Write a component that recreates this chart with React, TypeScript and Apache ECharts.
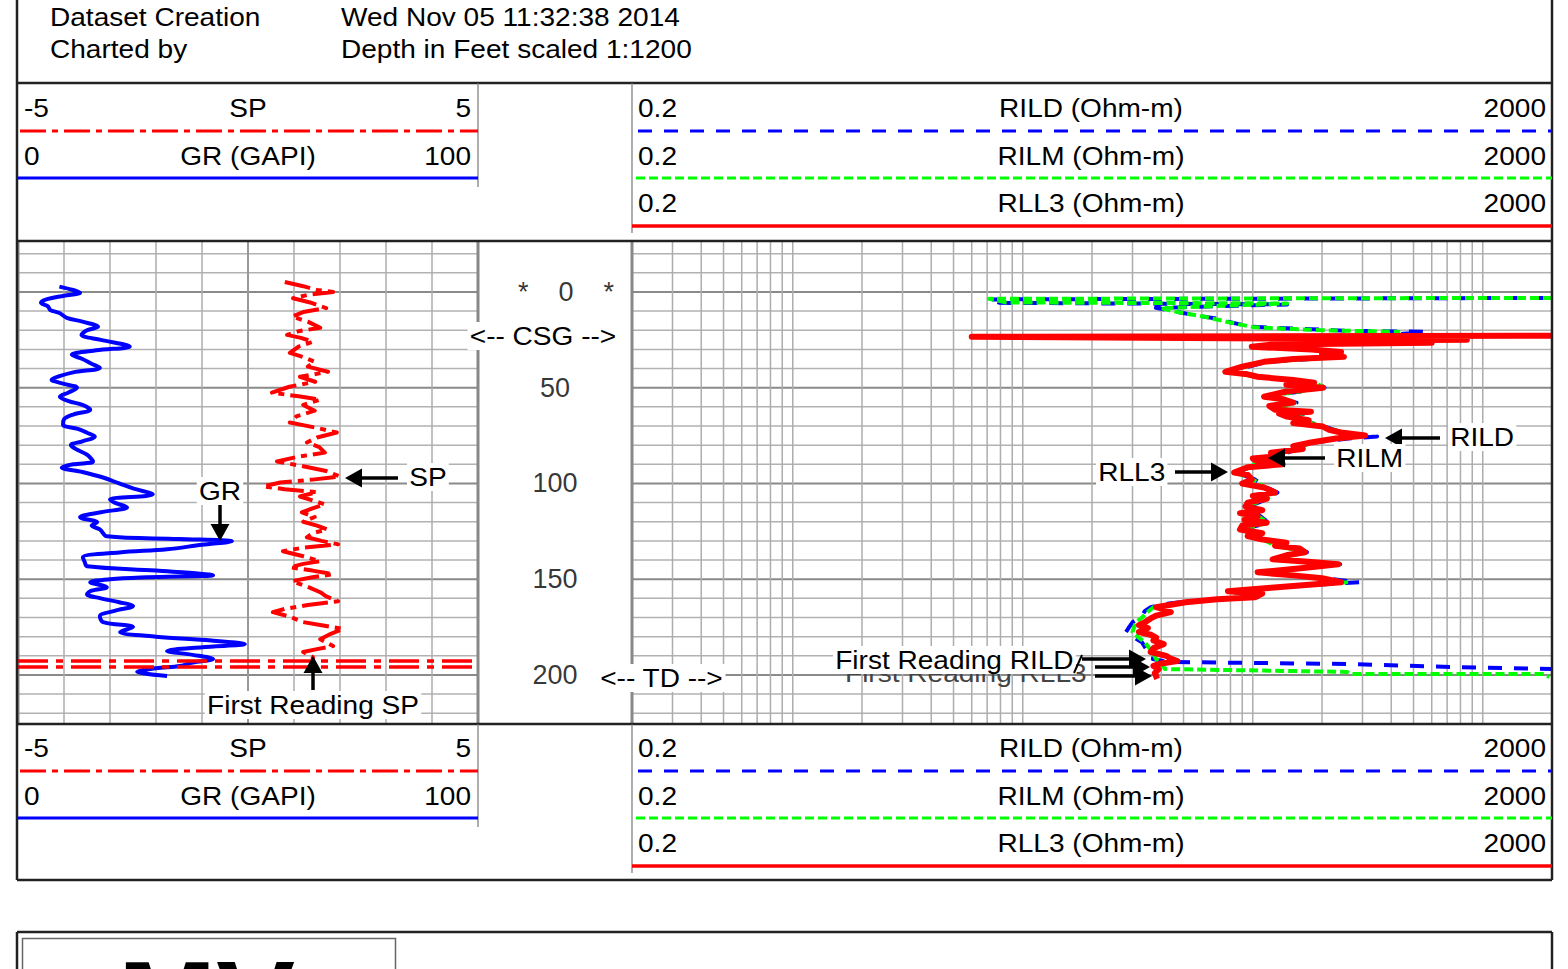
import React, { useEffect, useRef } from 'react';
import * as echarts from 'echarts';

// ---------------- data ----------------
const DEPTH_MIN = -26.6;
const DEPTH_MAX = 225.6;
const DEPTH_GRID = [-20, -10, 0, 10, 20, 30, 40, 50, 60, 70, 80, 90, 100, 110, 120, 130, 140, 150, 160, 170, 180, 190, 200, 210, 220];
const DEPTH_LABELS = [0, 50, 100, 150, 200];
const DEPTH_LABEL_TEXT = ['*    0    *', '50', '100', '150', '200'];
const GR_GRID = [0, 10, 20, 30, 40, 50, 60, 70, 80, 90, 100];
const RES_GRID = [0.2, 0.3, 0.4, 0.5, 0.6, 0.7, 0.8, 0.9, 1, 2, 3, 4, 5, 6, 7, 8, 9, 10, 20, 30, 40, 50, 60, 70, 80, 90, 100, 200, 300, 400, 500, 600, 700, 800, 900, 1000, 2000];

// [depth ft, GR GAPI]
const GR_DATA = [
  [-2.8, 9], [-1, 12], [0.4, 13.5], [2, 10], [4, 6], [5.7, 5], [7.5, 6.5], [9.4, 7], [11, 9], [13.5, 10.6],
  [15.5, 14], [18.2, 17.4], [20, 15], [22.4, 13.8], [25, 18], [28.5, 24.3], [30.5, 17], [32.8, 11.7], [35, 14],
  [37.5, 16], [39.6, 17.8], [42, 12], [44, 9], [45.8, 7.3], [48, 10], [50, 12.8], [52.5, 11], [54.7, 9.1],
  [57, 11], [59, 14], [61.5, 15.7], [64, 12], [66.5, 10], [69.3, 9.8], [71.5, 13], [73.5, 15], [75.5, 16.7],
  [78, 14], [80, 11.5], [82.3, 12.8], [85, 15], [88.5, 16.3], [90, 12], [91.7, 9.5], [94, 14], [96.9, 18.5],
  [100, 22], [102.6, 25], [105.7, 29.3], [108.3, 20], [110, 21], [112.5, 23.7], [115, 18], [117.7, 13.5],
  [120.3, 17.2], [122, 16], [124, 17.8], [127.6, 19.3], [129, 35], [130.2, 46.5], [132, 40], [134.4, 32.4],
  [136, 22], [138.5, 14.1], [141, 14.5], [143.2, 15], [145.5, 30], [147.9, 42.4], [149, 28], [150, 20],
  [151.6, 15.7], [154.2, 19.3], [156, 16], [157.8, 15], [160, 18], [162, 22], [164, 25], [166.5, 21],
  [169.3, 17.8], [172.4, 18.5], [175, 25], [177.6, 22.2], [180, 30], [182, 42], [183.9, 49.3], [185.5, 40],
  [187.5, 32.4], [189.5, 38], [191.7, 42.4], [193.5, 38], [195.3, 35.2], [196.5, 30], [198.4, 25.9], [200.5, 32.4],
];

// [depth ft, SP]
const SP_DATA = [
  [-5.2, 0.8], [-3, 1.2], [-1, 1.5], [0, 1.85], [1.5, 1.3], [3.3, 0.98], [5.5, 1.35], [8.4, 1.7], [10.5, 1.2],
  [12.9, 0.96], [15.5, 1.3], [18.7, 1.57], [20.5, 1.1], [22.4, 0.85], [24, 1.15], [26, 1.41], [28.5, 1.1],
  [31.8, 0.91], [34, 1.2], [36.5, 1.45], [39, 1.3], [41.7, 1.74], [44.3, 1.13], [46.9, 1.46], [49.5, 0.9],
  [52.6, 0.52], [54.5, 1.1], [56.2, 1.57], [59, 1.2], [62, 1.45], [65, 1.05], [68.2, 0.91], [71, 1.5],
  [73.4, 1.93], [76, 1.5], [78.6, 1.28], [81, 1.55], [83.9, 1.67], [86, 1.1], [88.5, 0.63], [91, 1.2],
  [93.5, 1.7], [96.4, 2.0], [98, 1.4], [99.5, 0.7], [101.6, 0.33], [103, 0.8], [104.5, 1.5], [106.8, 1.13],
  [108.8, 1.4], [110.9, 1.67], [113, 1.4], [115.1, 1.17], [117.5, 1.45], [120, 1.2], [122, 1.5], [124, 1.72],
  [126, 1.4], [128.1, 1.28], [130, 1.6], [131.8, 1.96], [133.5, 1.2], [135.4, 0.76], [138, 1.2], [140.6, 1.57],
  [142, 1.2], [143.8, 0.91], [145.5, 1.4], [147.4, 1.85], [149, 1.4], [151, 0.96], [154, 1.3], [156.8, 1.57],
  [159, 1.7], [161.5, 1.96], [163.5, 1.3], [165.5, 0.8], [167.2, 0.54], [169.5, 0.9], [172.4, 1.2], [174, 1.6],
  [176, 2.07], [178.5, 1.8], [181.3, 1.57], [183, 1.7], [184.9, 1.85], [186.5, 1.5], [188, 1.2], [190.6, 1.41],
  [192.4, 1.41],
];
const SP_FIRST_READING = [192.7, 195.8];
const SP_RANGE = [-5, 5];

// [depth ft, ohm-m]
const RLL3_DATA = [
  [22.9, 2000], [23.4, 6.0], [25.0, 853], [25.5, 160], [26.5, 600], [27.5, 120], [28.6, 99], [30.0, 180],
  [31.3, 242], [32.5, 200], [33.9, 249], [35.0, 150], [36.5, 112], [39.0, 90], [41.7, 76], [43.0, 95],
  [44.3, 105], [46.0, 150], [47.4, 185], [48.5, 140], [50.0, 202], [52.0, 140], [54.7, 112], [56.0, 135],
  [57.8, 150], [59.5, 118], [61.5, 125], [62.5, 179], [63.5, 130], [65.1, 141], [67.0, 175], [68.5, 150],
  [70.3, 202], [72.0, 215], [73.4, 242], [75.0, 308], [76.5, 230], [78.6, 179], [80.5, 150], [82.0, 165],
  [84.0, 120], [85.9, 125], [87.0, 100], [88.5, 105], [90.0, 135], [91.5, 95], [94.3, 83], [95.5, 95],
  [97.9, 99], [100.0, 90], [102.1, 112], [104.7, 125], [106.5, 100], [108.0, 115], [110.0, 95], [112.0, 93],
  [114.0, 110], [115.5, 88], [117.2, 105], [119.0, 92], [120.5, 115], [122.0, 90], [124.0, 88], [126.0, 110],
  [127.5, 95], [129.2, 109], [131.0, 140], [132.5, 125], [134.0, 160], [135.9, 169], [137.5, 140], [139.6, 122],
  [141.0, 180], [142.2, 235], [144.0, 170], [146.4, 105], [148.0, 150], [149.5, 200], [151.6, 242], [153.0, 170],
  [154.5, 120], [156.3, 78], [157.5, 110], [159.4, 102], [160.5, 70], [162.0, 51], [164.6, 38], [166.0, 42],
  [167.2, 44], [169.0, 38], [170.5, 36], [172.4, 34], [174.0, 32], [175.5, 35], [177.6, 32], [179.0, 36],
  [180.5, 38], [182.0, 37], [183.9, 41], [186.0, 37], [188.0, 36], [190.0, 42], [191.5, 44], [192.7, 47],
  [194.0, 40], [195.3, 37], [197.0, 39], [199.0, 37.5], [202.0, 38.4],
];
const RILD_DATA = [
  [3.1, 2000], [3.9, 7.13], [5.7, 7.96], [6.5, 141], [8.3, 37.9], [10.0, 45], [12.0, 55], [14.0, 70],
  [15.6, 78], [18.2, 99], [19.5, 180], [20.3, 257], [20.8, 561], [22.5, 400], [25.0, 250], [27.0, 170],
  [29.0, 150], [31.3, 240], [33.9, 250], [36.5, 115], [41.7, 78], [44.3, 108], [47.4, 190], [50.0, 205],
  [54.7, 115], [57.8, 155], [61.5, 128], [62.5, 182], [65.1, 145], [70.3, 205], [73.4, 245], [75.5, 347],
  [76.5, 260], [78.6, 185], [85.9, 128], [88.5, 108], [91.5, 98], [94.3, 85], [97.9, 102], [102.1, 115],
  [104.7, 128], [108.0, 116], [112.0, 96], [117.2, 108], [120.5, 117], [124.0, 90], [129.2, 112], [132.5, 128],
  [135.9, 172], [139.6, 125], [142.2, 240], [146.4, 108], [149.5, 205], [151.6, 290], [153.0, 175], [156.3, 80],
  [159.4, 105], [161.0, 60], [162.5, 44], [164.6, 36], [166.5, 34], [169.0, 33], [170.8, 31.7], [172.5, 30],
  [175.0, 29], [177.6, 28.1], [179.5, 30], [181.0, 31], [183.0, 33], [185.5, 34], [188.0, 35], [190.0, 37],
  [191.7, 36.8], [193.2, 42.8], [194.3, 265], [195.8, 721], [196.9, 2000],
];
const RILM_DATA = [
  [3.1, 2000], [3.6, 7.13], [5.5, 8.5], [6.0, 141], [8.5, 40], [10.5, 47], [13.0, 62], [16.0, 80],
  [18.5, 102], [20.0, 200], [20.8, 430], [22.5, 380], [25.0, 240], [27.0, 165], [29.0, 148], [31.3, 238],
  [33.9, 247], [36.5, 113], [41.7, 77], [44.3, 106], [47.4, 188], [50.0, 204], [54.7, 113], [57.8, 152],
  [61.5, 126], [62.5, 180], [65.1, 143], [70.3, 204], [73.4, 243], [75.5, 285], [76.5, 240], [78.6, 182],
  [85.9, 126], [88.5, 106], [91.5, 97], [94.3, 84], [97.9, 100], [102.1, 113], [104.7, 126], [108.0, 115],
  [112.0, 94], [117.2, 106], [120.5, 116], [124.0, 89], [129.2, 110], [132.5, 126], [135.9, 170], [139.6, 123],
  [142.2, 238], [146.4, 106], [149.5, 203], [151.6, 255], [153.0, 172], [156.3, 79], [159.4, 103], [161.0, 62],
  [162.5, 46], [164.6, 37], [167.0, 35], [170.0, 33], [172.4, 31], [175.0, 30.5], [177.6, 30], [180.0, 31.5],
  [183.0, 34], [186.0, 35.5], [189.0, 37], [191.7, 38], [193.5, 40], [196.9, 41.5], [198.4, 257], [199.5, 265],
  [199.5, 1830], [201.0, 1950],
];

// ---------------- styling helpers ----------------
const FONT = '"Liberation Sans", Arial, Helvetica, sans-serif';
const FS = 25.5;
const SX = 1.1;

function txt(text: string, x: number, y: number, align: string = 'left', opts: any = {}) {
  return {
    type: 'text', x, y, scaleX: opts.scaleX ?? SX, z: opts.z ?? 100, silent: true,
    style: {
      text, fill: opts.fill ?? '#000', fontSize: opts.fontSize ?? FS, fontFamily: FONT,
      fontWeight: opts.fontWeight ?? 'normal', align, verticalAlign: 'middle',
      ...(opts.bg ? { backgroundColor: '#fff', padding: [1, 2] } : {}),
    },
  };
}
function ln(x1: number, y1: number, x2: number, y2: number, stroke = '#222', lineWidth = 2.5, lineDash?: number[]) {
  return { type: 'line', z: 100, silent: true, shape: { x1, y1, x2, y2 }, style: { stroke, lineWidth, lineDash } };
}
function arrow(x1: number, y1: number, x2: number, y2: number, head = 17, half = 9.5) {
  const dx = x2 - x1, dy = y2 - y1;
  const L = Math.hypot(dx, dy);
  const ux = dx / L, uy = dy / L;
  const bx = x2 - ux * head, by = y2 - uy * head;
  return [
    { type: 'line', z: 100, silent: true, shape: { x1, y1, x2: bx + ux * 2, y2: by + uy * 2 }, style: { stroke: '#000', lineWidth: 3.5 } },
    { type: 'polygon', z: 100, silent: true, shape: { points: [[x2, y2], [bx - uy * half, by + ux * half], [bx + uy * half, by - ux * half]] }, style: { fill: '#000' } },
  ];
}

function hGrid(xAxisIndex: number, yAxisIndex: number, xMin: number, xMax: number) {
  return {
    type: 'custom', xAxisIndex, yAxisIndex, silent: true, z: 1, clip: false,
    data: DEPTH_GRID.map((d) => [xMin, d]),
    renderItem: (_p: any, api: any) => {
      const d = api.value(1);
      const a = api.coord([xMin, d]);
      const b = api.coord([xMax, d]);
      const major = d % 50 === 0;
      return { type: 'line', shape: { x1: a[0], y1: a[1], x2: b[0], y2: b[1] }, style: { stroke: major ? '#8a8a8a' : '#b2b2b2', lineWidth: major ? 2 : 1.5 } };
    },
  };
}
function vGrid(xAxisIndex: number, yAxisIndex: number, values: number[], strong: (v: number) => number) {
  return {
    type: 'custom', xAxisIndex, yAxisIndex, silent: true, z: 1, clip: false,
    data: values.map((v) => [v, 0]),
    renderItem: (_p: any, api: any) => {
      const v = api.value(0);
      const a = api.coord([v, DEPTH_MIN]);
      const b = api.coord([v, DEPTH_MAX]);
      const s = strong(v);
      const color = s >= 2 ? '#888' : s === 1 ? '#999' : '#adadad';
      const w = s >= 2 ? 3 : s === 1 ? 2 : 1.5;
      return { type: 'line', shape: { x1: a[0], y1: a[1], x2: b[0], y2: b[1] }, style: { stroke: color, lineWidth: w } };
    },
  };
}
function curve(data: number[][], xAxisIndex: number, yAxisIndex: number, color: string, width: number, type: any, z: number, smooth: any = false) {
  return {
    type: 'line', xAxisIndex, yAxisIndex, silent: true, z, smooth,
    data: data.map(([d, v]) => [v, d]),
    showSymbol: false, symbol: 'none',
    lineStyle: { color, width, type, cap: 'butt', join: 'round' },
  };
}

const SP_DASH = [26, 6, 6, 6];
const RILD_DASH = [14, 12];
const RILM_DASH = [9, 4];

function legendBlock(dy: number) {
  const el: any[] = [];
  el.push(txt('-5', 24, 108 + dy), txt('SP', 248, 108 + dy, 'center'), txt('5', 471, 108 + dy, 'right'));
  el.push(ln(20, 131 + dy, 478, 131 + dy, '#ff0000', 3, SP_DASH));
  el.push(txt('0', 24, 156 + dy), txt('GR (GAPI)', 248, 156 + dy, 'center'), txt('100', 471, 156 + dy, 'right'));
  el.push(ln(18, 178 + dy, 478, 178 + dy, '#0000ff', 3));
  el.push(txt('0.2', 638, 108 + dy), txt('RILD (Ohm-m)', 1091, 108 + dy, 'center'), txt('2000', 1546, 108 + dy, 'right'));
  el.push(ln(638, 131 + dy, 1552, 131 + dy, '#0000ff', 3, RILD_DASH));
  el.push(txt('0.2', 638, 156 + dy), txt('RILM (Ohm-m)', 1091, 156 + dy, 'center'), txt('2000', 1546, 156 + dy, 'right'));
  el.push(ln(636, 178 + dy, 1552, 178 + dy, '#00ff00', 3, RILM_DASH));
  el.push(txt('0.2', 638, 203 + dy), txt('RLL3 (Ohm-m)', 1091, 203 + dy, 'center'), txt('2000', 1546, 203 + dy, 'right'));
  el.push(ln(632, 226 + dy, 1552, 226 + dy, '#ff0000', 3.5));
  return el;
}

function buildOption(): any {
  const graphics: any[] = [
    // frame
    ln(17, -5, 17, 880), ln(1552, -5, 1552, 880),
    ln(17, 83, 1552, 83), ln(17, 241, 1552, 241), ln(17, 724, 1552, 724), ln(17, 880, 1552, 880),
    ln(478, 83, 478, 187, '#777', 1.2), ln(632, 83, 632, 233, '#777', 1.2),
    ln(478, 724, 478, 827, '#777', 1.2), ln(632, 724, 632, 873, '#777', 1.2),
    ln(17, 932, 1552, 932), ln(17, 932, 17, 980), ln(1552, 932, 1552, 980),
    { type: 'rect', z: 100, silent: true, shape: { x: 22.5, y: 938.5, width: 373, height: 60 }, style: { fill: 'none', stroke: '#666', lineWidth: 1.5 } },
    txt('MV', 118, 1003, 'left', { fontSize: 118, fontWeight: 'bold', scaleX: 1 }),
    // header
    txt('Dataset Creation', 50, 17), txt('Charted by', 50, 49),
    txt('Wed Nov 05 11:32:38 2014', 341, 17), txt('Depth in Feet scaled 1:1200', 341, 49),
    ...legendBlock(0),
    ...legendBlock(640),
    // annotations
    txt('<-- CSG -->', 543, 336, 'center', { bg: true }),
    txt('<-- TD -->', 598, 678, 'left', { bg: true }),
    txt('GR', 220, 491, 'center', { bg: true }), ...arrow(220, 505, 220, 541),
    txt('SP', 407, 477, 'left', { bg: true }), ...arrow(398, 478, 345, 478),
    txt('First Reading SP', 313, 705, 'center', { bg: true }), ...arrow(313, 690, 313, 656),
    txt('RILD', 1448, 437, 'left', { bg: true }), ...arrow(1440, 438, 1385, 438),
    txt('RILM', 1334, 458, 'left', { bg: true }), ...arrow(1325, 458, 1268, 458),
    txt('RLL3', 1096, 472, 'left', { bg: true }), ...arrow(1175, 472, 1228, 472),
    txt('First Reading RLL3', 845, 673, 'left', { z: 98, fill: '#444' }),
    txt('First Reading RILD', 833, 660, 'left', { bg: true, z: 99 }),
    ln(1074, 673, 1082, 655, '#000', 2),
    ...arrow(1082, 659, 1146, 659),
    ...arrow(1095, 667, 1150, 667),
    ...arrow(1095, 676, 1152, 676),
  ];

  return {
    animation: false,
    backgroundColor: '#fff',
    textStyle: { fontFamily: FONT },
    grid: [
      { left: 18, top: 241, width: 460, height: 483 },
      { left: 632, top: 241, width: 920, height: 483 },
      { left: 478, top: 241, width: 154, height: 483 },
    ],
    xAxis: [
      { gridIndex: 0, type: 'value', min: 0, max: 100, show: false },
      { gridIndex: 0, type: 'value', min: SP_RANGE[0], max: SP_RANGE[1], show: false },
      { gridIndex: 1, type: 'log', logBase: 10, min: 0.2, max: 2000, show: false },
      { gridIndex: 2, type: 'value', min: 0, max: 1, show: false },
    ],
    yAxis: [0, 1, 2].map((i) => ({ gridIndex: i, type: 'value', inverse: true, min: DEPTH_MIN, max: DEPTH_MAX, show: false })),
    series: [
      hGrid(0, 0, 0, 100),
      vGrid(0, 0, GR_GRID, (v) => (v === 0 || v === 100 ? 2 : v === 50 ? 1 : 0)),
      hGrid(2, 1, 0.2, 2000),
      vGrid(2, 1, RES_GRID, (v) => (v === 0.2 ? 2 : 0)),
      curve(GR_DATA, 0, 0, '#0000ff', 4, 'solid', 5, 0.35),
      curve(SP_DATA, 1, 0, '#ff0000', 4, SP_DASH, 6),
      ...SP_FIRST_READING.map((d) => curve([[d, SP_RANGE[0]], [d, SP_RANGE[1]]], 1, 0, '#ff0000', 3.5, [30, 8, 7, 8], 6)),
      curve(RILD_DATA, 2, 1, '#0000ff', 4, RILD_DASH, 5),
      curve(RILM_DATA, 2, 1, '#00ff00', 4, RILM_DASH, 6),
      curve(RLL3_DATA, 2, 1, '#ff0000', 6, 'solid', 7),
      {
        type: 'scatter', xAxisIndex: 3, yAxisIndex: 2, silent: true, z: 8,
        symbolSize: 1, itemStyle: { color: 'rgba(0,0,0,0)' },
        data: DEPTH_LABELS.map((d, i) => ({
          value: [0.5, d],
          label: { show: true, position: 'inside', formatter: DEPTH_LABEL_TEXT[i], offset: d === 0 ? [11, 0] : [0, 0] },
        })),
        label: { show: true, position: 'inside', color: '#000', fontSize: 27, fontFamily: FONT },
      },
    ],
    graphic: { elements: graphics },
  };
}

export default function App() {
  const ref = useRef<HTMLDivElement>(null);
  useEffect(() => {
    const chart = echarts.init(ref.current as HTMLDivElement, null, { renderer: 'svg' });
    chart.setOption(buildOption());
    return () => chart.dispose();
  }, []);
  return <div ref={ref} style={{ position: 'fixed', left: 0, top: 0, width: 1568, height: 969, background: '#fff' }} />;
}
